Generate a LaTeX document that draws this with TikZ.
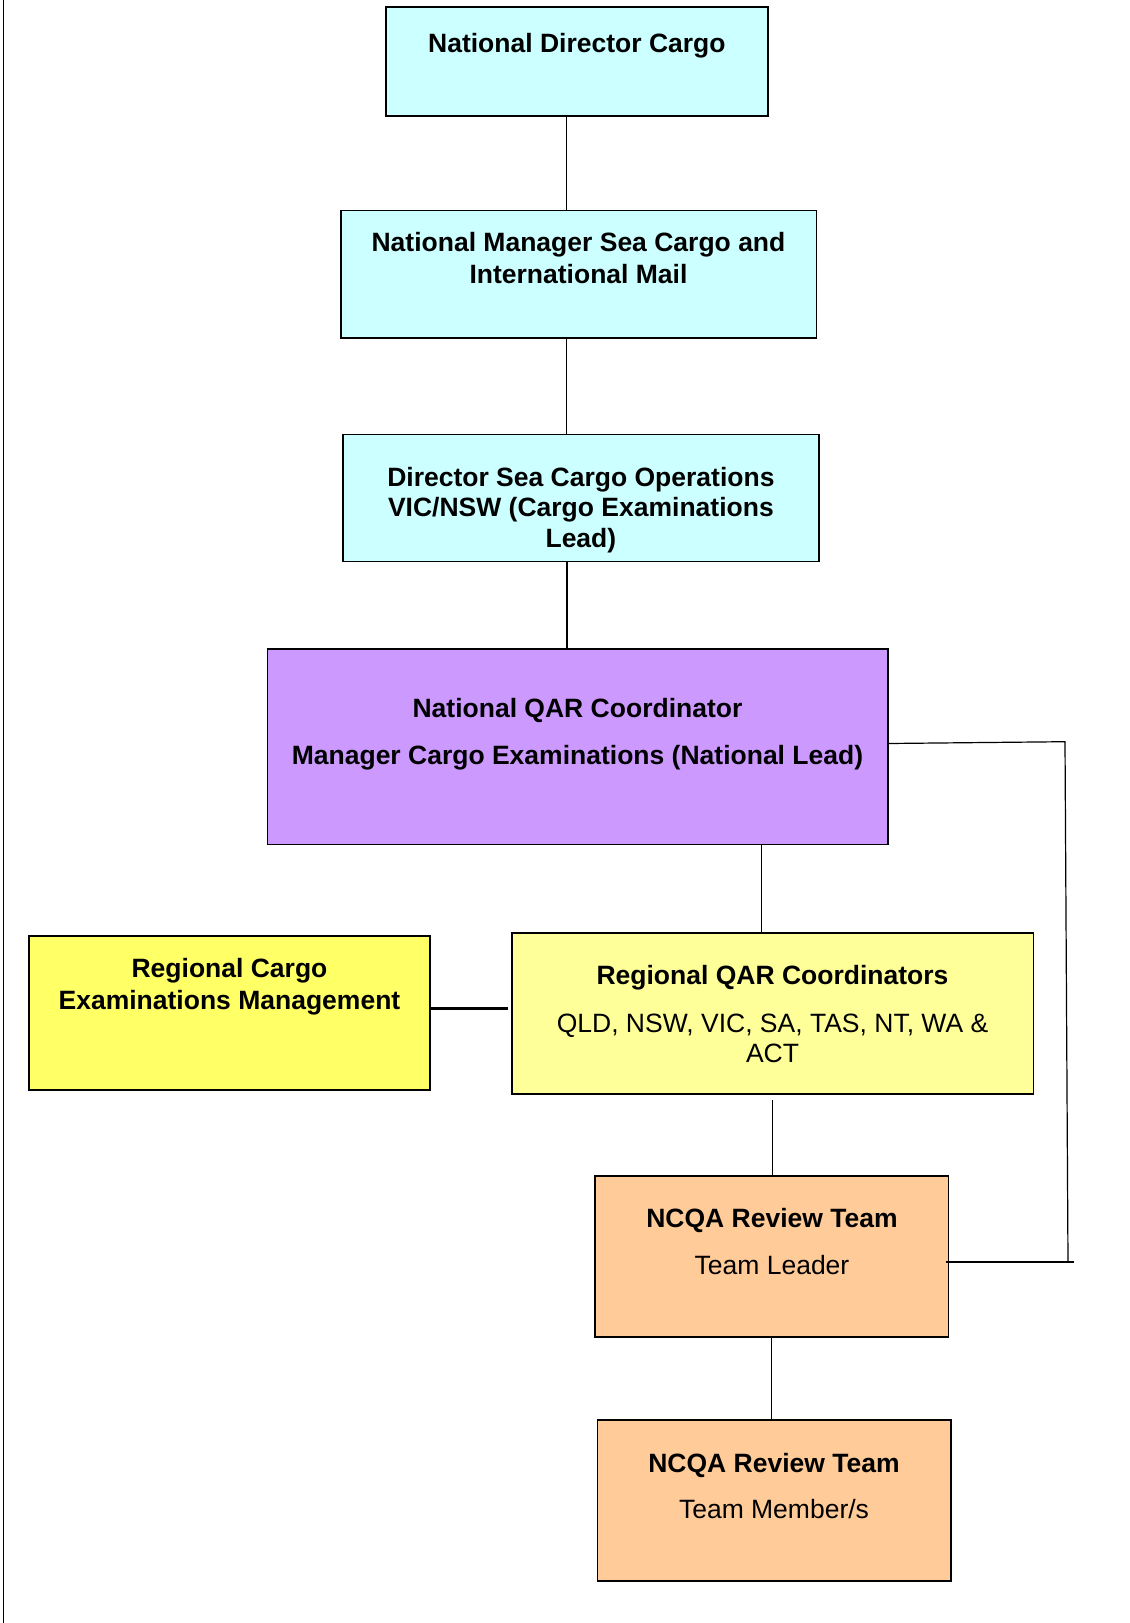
\documentclass[tikz,border=0pt]{standalone}
\usepackage{fontspec}
\setmainfont{Liberation Sans}
\definecolor{cyanbox}{HTML}{CCFFFF}
\definecolor{purplebox}{HTML}{CC99FF}
\definecolor{yellowbox}{HTML}{FFFF66}
\definecolor{paleyellow}{HTML}{FFFF99}
\definecolor{orangebox}{HTML}{FFCC99}
\begin{document}
\begin{tikzpicture}[x=1pt,y=-1pt,
  box/.style={draw=black, line width=1.8pt, inner sep=0pt, outer sep=0pt},
  tl/.style={inner sep=0pt, text height=19pt, text depth=0pt, font=\fontsize{26.5pt}{31pt}\selectfont},
  tb/.style={tl, font=\fontsize{26.5pt}{31pt}\selectfont\bfseries},
  conn/.style={draw=black, line width=1.2pt},
  thickconn/.style={draw=black, line width=2.4pt}]
\useasboundingbox (0,0) rectangle (1130,1623);
\fill[white] (0,0) rectangle (1130,1623);
% page border at left
\draw[line width=1.6pt] (3.6,0) -- (3.6,1623);

% boxes
\node[box, fill=cyanbox, minimum width=382.6pt, minimum height=109.4pt] (b1) at (576.9,61.6) {};
\node[box, fill=cyanbox, minimum width=475.6pt, minimum height=127.4pt] (b2) at (578.7,274.2) {};
\node[box, fill=cyanbox, minimum width=475.7pt, minimum height=127pt] (b3) at (580.85,497.9) {};
\node[box, fill=purplebox, minimum width=620.5pt, minimum height=195.4pt] (b4) at (577.65,746.8) {};
\node[box, fill=yellowbox, minimum width=401.4pt, minimum height=153.6pt] (b5) at (229.5,1012.8) {};
\node[box, fill=paleyellow, minimum width=521.7pt, minimum height=161.3pt] (b6) at (772.55,1013.55) {};
\node[box, fill=orangebox, minimum width=353.1pt, minimum height=161.1pt] (b7) at (771.85,1256.25) {};
\node[box, fill=orangebox, minimum width=353.2pt, minimum height=161.1pt] (b8) at (774,1500.75) {};

% texts
\node[tb] (t1) at (576.9,43) {National Director Cargo};
\node[tb] (t2a) at (578.5,241.9) {National Manager Sea Cargo and};
\node[tb] (t2b) at (578.5,273.6) {International Mail};
\node[tb] (t3a) at (580.9,476.5) {Director Sea Cargo Operations};
\node[tb] (t3b) at (580.9,507) {VIC/NSW (Cargo Examinations};
\node[tb] (t3c) at (580.9,537.7) {Lead)};
\node[tb] (t4a) at (577.5,708) {National QAR Coordinator};
\node[tb] (t4b) at (577.5,755.4) {Manager Cargo Examinations (National Lead)};
\node[tb] (t5a) at (229.5,968.3) {Regional Cargo};
\node[tb] (t5b) at (229.5,999.9) {Examinations Management};
\node[tb] (t6a) at (772.5,975.3) {Regional QAR Coordinators};
\node[tl] (t6b) at (772.5,1022.7) {QLD, NSW, VIC, SA, TAS, NT, WA \&};
\node[tl] (t6c) at (772.5,1052.5) {ACT};
\node[tb] (t7a) at (772,1218.4) {NCQA Review Team};
\node[tl] (t7b) at (772,1265.1) {Team Leader};
\node[tb] (t8a) at (774,1462.9) {NCQA Review Team};
\node[tl] (t8b) at (774,1508.6) {Team Member/s};

% connectors
\draw[conn] ([xshift=-10.5pt]b1.south) -- ([xshift=-10.5pt]b1.south |- b2.north);
\draw[conn] ([xshift=-12.3pt]b2.south) -- ([xshift=-12.3pt]b2.south |- b3.north);
\draw[conn] ([xshift=-13.9pt]b3.south) -- ([xshift=-13.9pt]b3.south |- b4.north);
\draw[conn] ([xshift=184.1pt]b4.south) -- ([xshift=184.1pt]b4.south |- b6.north);
\draw[thickconn] ([yshift=4.2pt]b5.east) -- ([yshift=4.2pt,xshift=-3.7pt]b5.east -| b6.west);
\draw[conn] ([yshift=-5.6pt]b6.south) -- (b6.south |- b7.north);
\draw[conn] (b7.south) -- (b7.south |- b8.north);
\coordinate (k1) at (1065,741.7);
\coordinate (k2) at (1068,1262.1);
\coordinate (k3) at (1073.8,1262.1);
\draw[conn] ([yshift=3.3pt]b4.east) -- (k1) -- (k2);
\draw[thickconn] ([xshift=-2.9pt,yshift=-5.85pt]b7.east) -- (k3);
\end{tikzpicture}
\end{document}
